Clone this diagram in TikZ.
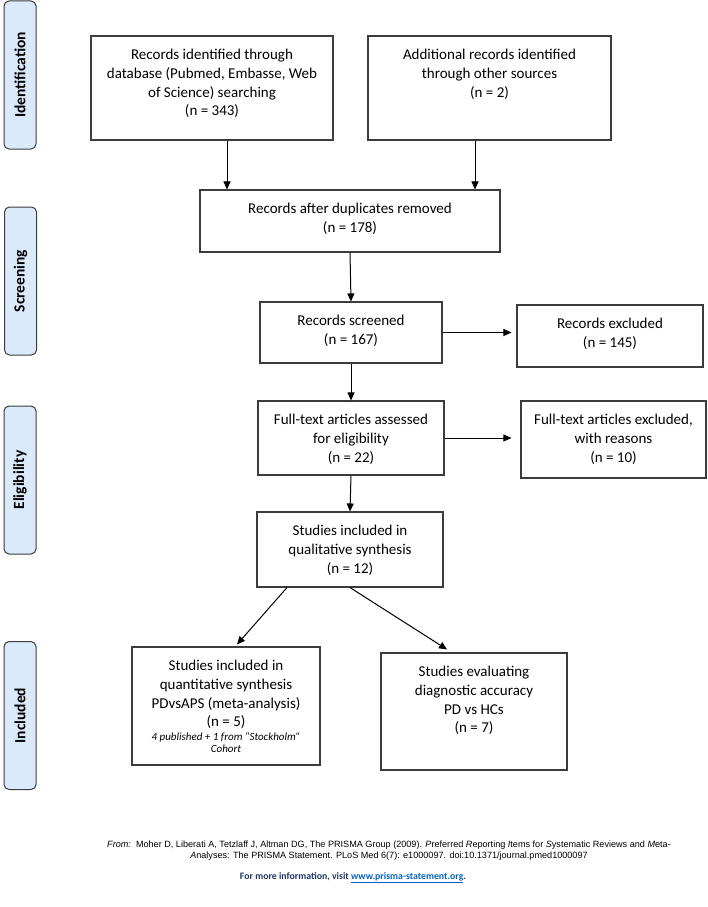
\documentclass[tikz,border=0pt]{standalone}
\usepackage{fontspec}
\setmainfont{Carlito}
\newfontfamily\arialf{Liberation Sans}
\usetikzlibrary{arrows.meta}
\definecolor{tabfill}{RGB}{218,234,250}
\definecolor{linegray}{RGB}{60,60,60}
\definecolor{navy}{RGB}{31,56,100}
\definecolor{linkblue}{RGB}{5,99,193}
\begin{document}
\begin{tikzpicture}[x=1pt,y=-1pt,
 box/.style={draw=linegray, line width=1.1pt, inner sep=0pt},
 tab/.style={draw=linegray, fill=tabfill, line width=1pt, rounded corners=5pt, minimum width=32pt, minimum height=148pt, inner sep=0pt},
 tabtext/.style={rotate=90, inner sep=0pt, font=\fontsize{15.5}{18}\selectfont\bfseries},
 txt/.style={anchor=north, inner sep=0pt, align=center, font=\fontsize{15}{18.7}\selectfont},
 arr/.style={-{Triangle[length=8pt,width=7pt]}, line width=1pt, black}]
\useasboundingbox (0,0) rectangle (708,907);
% phase tabs
\node[tab] (T1) at (20,75) {};
\node[tabtext] (T1t) at (T1) {Identification};
\node[tab] (T2) at (20.5,281) {};
\node[tabtext] (T2t) at (T2) {Screening};
\node[tab] (T3) at (20,480) {};
\node[tabtext] (T3t) at (T3) {Eligibility};
\node[tab] (T4) at (20,715.5) {};
\node[tabtext] (T4t) at (T4) {Included};
% boxes
\node[box, minimum width=242pt, minimum height=104pt] (A) at (212,88) {};
\node[txt] (At) at ([yshift=-11pt]A.north) {\strut Records identified through\\database (Pubmed, Embasse, Web\\of Science) searching\\(n = 343)};
\node[box, minimum width=243pt, minimum height=104pt] (B) at (489.5,88) {};
\node[txt] (Bt) at ([yshift=-11pt]B.north) {\strut Additional records identified\\through other sources\\(n = 2)};
\node[box, minimum width=300pt, minimum height=62pt] (C) at (350,221) {};
\node[txt] (Ct) at ([yshift=-11pt]C.north) {\strut Records after duplicates removed\\(n = 178)};
\node[box, minimum width=182pt, minimum height=61pt] (D) at (351,332.5) {};
\node[txt] (Dt) at ([yshift=-11pt]D.north) {\strut Records screened\\(n = 167)};
\node[box, minimum width=186pt, minimum height=62pt] (E) at (610,336) {};
\node[txt] (Et) at ([yshift=-11pt]E.north) {\strut Records excluded\\(n = 145)};
\node[box, minimum width=186pt, minimum height=74pt] (F) at (351,438) {};
\node[txt] (Ft) at ([yshift=-11pt]F.north) {\strut Full-text articles assessed\\for eligibility\\(n = 22)};
\node[box, minimum width=185pt, minimum height=77pt] (G) at (613.5,439.5) {};
\node[txt] (Gt) at ([yshift=-11pt]G.north) {\strut Full-text articles excluded,\\with reasons\\(n = 10)};
\node[box, minimum width=186pt, minimum height=75pt] (H) at (350,549.5) {};
\node[txt] (Ht) at ([yshift=-11pt]H.north) {\strut Studies included in\\qualitative synthesis\\(n = 12)};
\node[box, minimum width=188pt, minimum height=118pt] (I) at (226,706) {};
\node[txt] (It) at ([yshift=-11pt]I.north) {\strut Studies included in\\quantitative synthesis\\PDvsAPS (meta-analysis)\\(n = 5)};
\node[inner sep=0pt, align=center, font=\fontsize{11}{12}\selectfont\itshape] (Is) at (226,743) {4 published + 1 from “Stockholm”\\Cohort};
\node[box, minimum width=186pt, minimum height=117pt] (J) at (474,711.5) {};
\node[txt] (Jt) at ([yshift=-11pt]J.north) {\strut Studies evaluating\\diagnostic accuracy\\PD vs HCs\\(n = 7)};
% connectors
\draw[arr] ([xshift=15pt]A.south) -- ([xshift=15pt]A.south |- C.north);
\draw[arr] ([xshift=-14.5pt]B.south) -- ([xshift=-14.5pt]B.south |- C.north);
\draw[arr] (C.south) -- (D.north);
\draw[arr, shorten >=5pt] (D.east) -- (D.east -| E.west);
\draw[arr] (D.south) -- (F.north);
\draw[arr, shorten >=9pt] (F.east) -- (F.east -| G.west);
\draw[arr] (F.south) -- (H.north);
\draw[arr] ([xshift=-63pt]H.south) -- ([xshift=11pt,yshift=2pt]I.north);
\draw[arr] (H.south) -- ([xshift=-27pt,yshift=3pt]J.north);
% footer
\node[inner sep=0pt, align=center, font=\arialf\fontsize{9.1}{11}\selectfont] (foot) at (389,850.5) {\textit{From:}\ \ Moher D, Liberati A, Tetzlaff J, Altman DG, The PRISMA Group (2009). \textit{P}referred \textit{R}eporting \textit{I}tems for \textit{S}ystematic Reviews and \textit{M}eta-\\\textit{A}nalyses: The PRISMA Statement. PLoS Med 6(7): e1000097. doi:10.1371/journal.pmed1000097};
\node[inner sep=0pt, font=\fontsize{9.8}{12}\selectfont\bfseries, text=navy] (info) at (353,878) {For more information, visit \textcolor{linkblue}{\underline{www.prisma-statement.org}}.};
\end{tikzpicture}
\end{document}
